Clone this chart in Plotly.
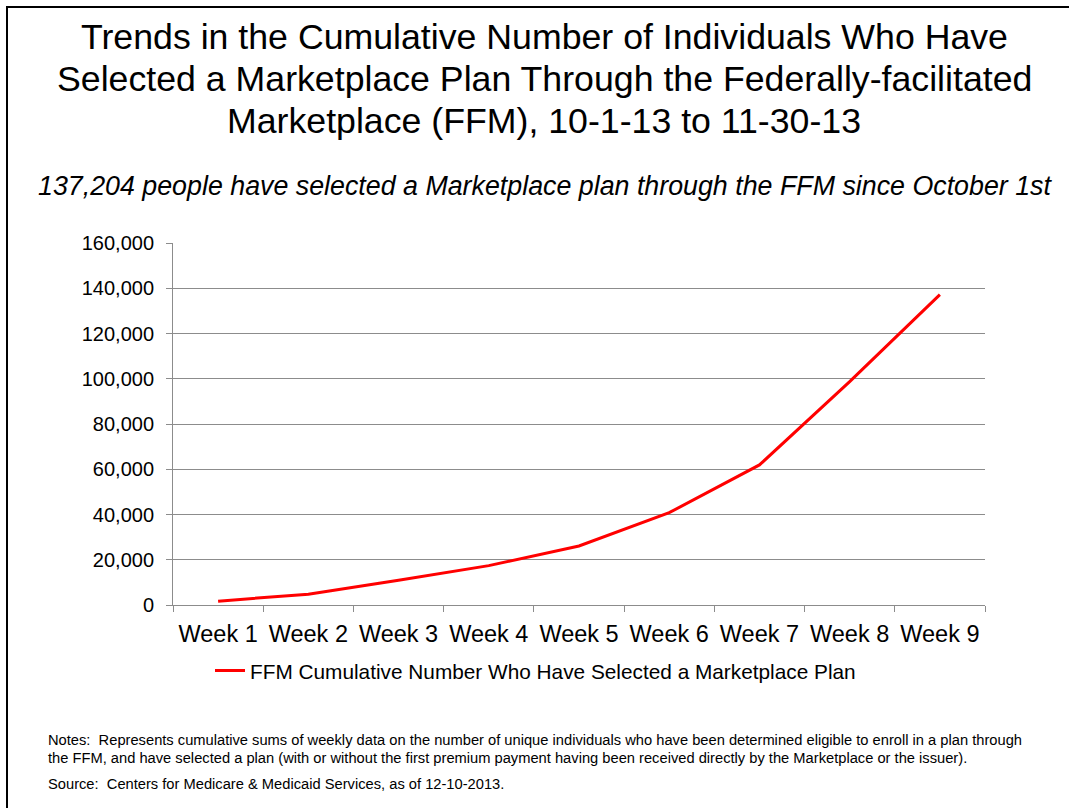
import plotly.graph_objects as go

weeks = ["Week 1", "Week 2", "Week 3", "Week 4", "Week 5", "Week 6", "Week 7", "Week 8", "Week 9"]
selected = [1700, 4800, 10900, 17400, 26100, 40800, 61900, 98700, 137204]
y_ticks = [0, 20000, 40000, 60000, 80000, 100000, 120000, 140000, 160000]

series_name = "FFM Cumulative Number Who Have Selected a Marketplace Plan"
title_lines = [
    "Trends in the Cumulative Number of Individuals Who Have",
    "Selected a Marketplace Plan Through the Federally-facilitated",
    "Marketplace (FFM), 10-1-13 to 11-30-13",
]
subtitle = "137,204 people have selected a Marketplace plan through the FFM since October 1st"
notes = [
    "Notes:\u00a0 Represents cumulative sums of weekly data on the number of unique individuals who have been determined eligible to enroll in a plan through",
    "the FFM, and have selected a plan (with or without the first premium payment having been received directly by the Marketplace or the issuer).",
    "Source:\u00a0 Centers for Medicare & Medicaid Services, as of 12-10-2013.",
]

W, H = 1069, 808
L, R, T, B = 173, 985, 243, 605
FONT = "Liberation Sans, Arial, sans-serif"


def px(x):
    return (x - L) / (R - L)


def py(y):
    return (B - y) / (B - T)


fig = go.Figure()
fig.add_trace(go.Scatter(
    x=weeks, y=selected, mode="lines", name=series_name,
    line=dict(color="#FF0000", width=3),
    showlegend=True,
))

annotations = []
for yc, line in zip([37, 79, 121], title_lines):
    annotations.append(dict(
        text=line, x=px(544), y=py(yc), xref="paper", yref="paper",
        xanchor="center", yanchor="middle", showarrow=False,
        font=dict(family=FONT, size=35.7, color="#000000"),
    ))
annotations.append(dict(
    text="<i>" + subtitle + "</i>", x=px(545), y=py(186), xref="paper", yref="paper",
    xanchor="center", yanchor="middle", showarrow=False,
    font=dict(family=FONT, size=26.8, color="#000000"),
))
for yc, line in zip([740, 758, 784], notes):
    annotations.append(dict(
        text=line, x=px(46), y=py(yc), xref="paper", yref="paper",
        xanchor="left", yanchor="middle", showarrow=False,
        font=dict(family=FONT, size=14.7, color="#000000"),
    ))

shapes = [
    dict(type="line", xref="paper", yref="paper", x0=px(7), x1=px(7), y0=py(6), y1=py(820),
         line=dict(color="#000000", width=2)),
    dict(type="line", xref="paper", yref="paper", x0=px(6), x1=px(1080), y0=py(7), y1=py(7),
         line=dict(color="#000000", width=2)),
]

fig.update_layout(
    width=W, height=H,
    margin=dict(l=L, r=W - R, t=T, b=H - B, pad=0),
    paper_bgcolor="#FFFFFF", plot_bgcolor="#FFFFFF",
    font=dict(family=FONT, color="#000000"),
    showlegend=True,
    legend=dict(
        orientation="h", x=px(210), y=py(671), xanchor="left", yanchor="middle",
        font=dict(family=FONT, size=20.8, color="#000000"),
        bgcolor="rgba(0,0,0,0)", borderwidth=0,
    ),
    annotations=annotations,
    shapes=shapes,
    xaxis=dict(
        type="category", range=[-0.5, 8.5],
        showgrid=False, zeroline=False,
        showline=True, linecolor="#8C8C8C", linewidth=1,
        ticks="outside", tickson="boundaries", ticklen=6, tickcolor="#8C8C8C",
        tickfont=dict(family=FONT, size=23.5, color="#000000"),
        ticklabelstandoff=8,
    ),
    yaxis=dict(
        range=[0, 160000], tickvals=y_ticks, tickformat=",",
        showgrid=True, gridcolor="#8C8C8C", gridwidth=1, zeroline=False,
        showline=True, linecolor="#8C8C8C", linewidth=1,
        ticks="outside", ticklen=6, tickcolor="#8C8C8C",
        tickfont=dict(family=FONT, size=20, color="#000000"),
        ticklabelstandoff=8,
    ),
)

fig.write_html(
    "out.html",
    config={"displayModeBar": False},
    post_script="document.body.style.margin='0';document.body.style.overflow='hidden';",
)
